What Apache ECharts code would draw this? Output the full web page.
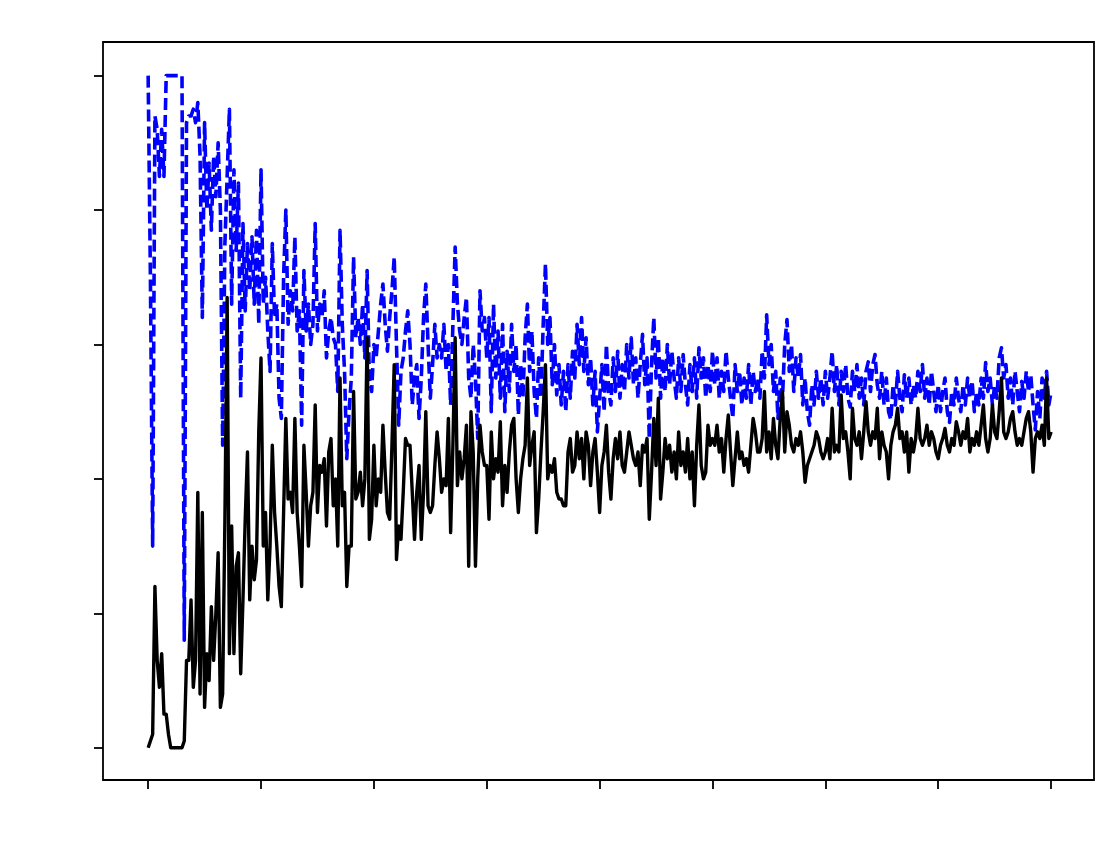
<!DOCTYPE html>
<html>
<head>
<meta charset="utf-8">
<script src="https://cdn.jsdelivr.net/npm/echarts@6/dist/echarts.min.js"></script>
<style>
html,body{margin:0;padding:0;background:#fff;}
#chart{width:1095px;height:868px;}
</style>
</head>
<body>
<div id="chart"></div>
<script>
// tick positions (labels are not shown in the reference)
const xTicks = [0, 50, 100, 150, 200, 250, 300, 350, 400];
const yTicks = [0, 0.2, 0.4, 0.6, 0.8, 1.0];

// blue dashed series, one value per step 0..400
const blueValues = [
1.0,0.70,0.30,0.94,0.92,0.85,0.92,0.85,1.0,1.0,
1.0,1.0,1.0,1.0,1.0,1.0,0.16,0.93,0.94,0.94,
0.95,0.93,0.96,0.88,0.64,0.93,0.80,0.87,0.77,0.88,
0.82,0.90,0.80,0.45,0.75,0.85,0.95,0.66,0.86,0.74,
0.84,0.52,0.78,0.65,0.75,0.68,0.76,0.66,0.77,0.63,
0.86,0.66,0.70,0.62,0.56,0.75,0.64,0.66,0.52,0.49,
0.70,0.80,0.63,0.68,0.65,0.76,0.62,0.65,0.48,0.71,
0.62,0.66,0.60,0.63,0.78,0.62,0.66,0.64,0.68,0.58,
0.62,0.64,0.61,0.60,0.53,0.77,0.63,0.56,0.43,0.50,
0.55,0.73,0.61,0.64,0.60,0.66,0.58,0.71,0.55,0.53,
0.60,0.58,0.62,0.66,0.69,0.63,0.59,0.64,0.68,0.73,
0.60,0.48,0.56,0.58,0.62,0.65,0.60,0.51,0.55,0.57,
0.49,0.55,0.64,0.69,0.60,0.52,0.57,0.63,0.58,0.60,
0.58,0.63,0.56,0.60,0.51,0.63,0.745,0.66,0.62,0.60,
0.64,0.67,0.55,0.52,0.60,0.55,0.46,0.68,0.62,0.64,
0.58,0.64,0.50,0.66,0.55,0.62,0.52,0.63,0.50,0.59,
0.53,0.63,0.56,0.60,0.495,0.57,0.52,0.61,0.66,0.56,
0.62,0.53,0.49,0.58,0.52,0.63,0.72,0.60,0.64,0.54,
0.60,0.525,0.57,0.51,0.56,0.50,0.57,0.52,0.59,0.55,
0.63,0.57,0.64,0.56,0.61,0.54,0.58,0.51,0.56,0.47,
0.52,0.57,0.50,0.60,0.53,0.51,0.58,0.53,0.59,0.52,
0.57,0.53,0.60,0.55,0.61,0.54,0.58,0.52,0.57,0.615,
0.54,0.58,0.46,0.57,0.64,0.55,0.61,0.52,0.58,0.53,
0.60,0.54,0.59,0.55,0.52,0.58,0.53,0.585,0.54,0.51,
0.57,0.53,0.58,0.52,0.595,0.55,0.58,0.52,0.57,0.53,
0.59,0.54,0.58,0.52,0.56,0.53,0.59,0.55,0.52,0.49,
0.57,0.53,0.56,0.51,0.55,0.52,0.57,0.51,0.56,0.53,
0.55,0.52,0.59,0.55,0.644,0.57,0.60,0.53,0.56,0.49,
0.55,0.52,0.60,0.637,0.56,0.60,0.53,0.58,0.55,0.585,
0.51,0.55,0.50,0.48,0.54,0.51,0.56,0.52,0.55,0.51,
0.56,0.52,0.55,0.59,0.53,0.57,0.51,0.56,0.53,0.57,
0.52,0.507,0.56,0.53,0.57,0.52,0.55,0.51,0.56,0.574,
0.53,0.57,0.585,0.54,0.52,0.56,0.51,0.55,0.50,0.488,
0.54,0.51,0.56,0.52,0.50,0.555,0.52,0.55,0.51,0.54,
0.52,0.56,0.53,0.57,0.52,0.55,0.51,0.56,0.53,0.50,
0.54,0.50,0.53,0.55,0.50,0.484,0.53,0.51,0.55,0.52,
0.50,0.54,0.51,0.55,0.52,0.546,0.50,0.53,0.51,0.55,
0.52,0.573,0.53,0.55,0.51,0.54,0.52,0.58,0.595,0.55,
0.57,0.52,0.55,0.51,0.56,0.53,0.50,0.545,0.52,0.56,
0.53,0.555,0.51,0.473,0.53,0.49,0.55,0.52,0.56,0.51,
0.53
];

// black solid series, one value per step 0..400
const blackValues = [
0.00,0.01,0.02,0.24,0.13,0.09,0.14,0.05,0.05,0.02,
0.00,0.00,0.00,0.00,0.00,0.00,0.01,0.13,0.13,0.22,
0.09,0.13,0.38,0.08,0.35,0.06,0.14,0.10,0.21,0.13,
0.20,0.29,0.06,0.08,0.34,0.67,0.14,0.33,0.14,0.27,
0.29,0.11,0.22,0.34,0.44,0.22,0.30,0.25,0.28,0.47,
0.58,0.30,0.35,0.22,0.30,0.45,0.35,0.30,0.24,0.21,
0.35,0.49,0.37,0.38,0.35,0.49,0.35,0.30,0.24,0.45,
0.38,0.30,0.36,0.38,0.51,0.35,0.42,0.41,0.43,0.33,
0.44,0.46,0.36,0.40,0.30,0.55,0.36,0.38,0.24,0.30,
0.30,0.53,0.37,0.38,0.41,0.36,0.40,0.61,0.31,0.34,
0.45,0.36,0.40,0.38,0.48,0.41,0.35,0.34,0.45,0.57,
0.28,0.33,0.31,0.38,0.46,0.45,0.45,0.38,0.31,0.38,
0.42,0.31,0.38,0.50,0.36,0.35,0.36,0.42,0.47,0.43,
0.38,0.40,0.39,0.49,0.32,0.45,0.61,0.39,0.44,0.40,
0.43,0.48,0.27,0.50,0.44,0.27,0.40,0.48,0.44,0.42,
0.42,0.34,0.47,0.40,0.43,0.41,0.485,0.36,0.42,0.38,
0.44,0.48,0.49,0.40,0.35,0.40,0.43,0.45,0.55,0.42,
0.45,0.47,0.32,0.37,0.44,0.50,0.57,0.40,0.42,0.41,
0.43,0.38,0.37,0.37,0.36,0.36,0.44,0.46,0.41,0.42,
0.47,0.43,0.46,0.40,0.47,0.45,0.39,0.44,0.46,0.41,
0.35,0.42,0.44,0.48,0.41,0.37,0.43,0.46,0.43,0.47,
0.42,0.41,0.44,0.47,0.45,0.43,0.42,0.44,0.39,0.45,
0.44,0.46,0.34,0.41,0.49,0.42,0.52,0.37,0.41,0.46,
0.43,0.45,0.41,0.44,0.40,0.47,0.42,0.44,0.41,0.46,
0.40,0.44,0.36,0.45,0.51,0.42,0.40,0.41,0.48,0.45,
0.46,0.45,0.48,0.44,0.46,0.41,0.46,0.495,0.44,0.39,
0.43,0.47,0.43,0.44,0.42,0.43,0.41,0.45,0.49,0.47,
0.44,0.44,0.46,0.53,0.44,0.47,0.43,0.49,0.45,0.43,
0.49,0.53,0.44,0.50,0.48,0.45,0.44,0.46,0.45,0.47,
0.44,0.395,0.42,0.43,0.44,0.45,0.47,0.46,0.44,0.43,
0.44,0.46,0.43,0.505,0.44,0.45,0.44,0.525,0.46,0.47,
0.44,0.40,0.505,0.46,0.45,0.47,0.43,0.47,0.515,0.47,
0.45,0.47,0.46,0.505,0.43,0.47,0.45,0.44,0.40,0.45,
0.47,0.48,0.505,0.46,0.47,0.44,0.47,0.41,0.46,0.44,
0.46,0.505,0.46,0.45,0.46,0.48,0.45,0.47,0.46,0.44,
0.43,0.45,0.46,0.475,0.45,0.44,0.46,0.45,0.485,0.47,
0.45,0.47,0.46,0.49,0.44,0.46,0.45,0.47,0.45,0.48,
0.51,0.46,0.44,0.46,0.51,0.47,0.46,0.50,0.55,0.47,
0.46,0.47,0.49,0.50,0.47,0.45,0.46,0.45,0.47,0.49,
0.50,0.47,0.41,0.46,0.47,0.46,0.48,0.45,0.55,0.46,
0.47
];

const chart = echarts.init(document.getElementById('chart'), null, {renderer: 'canvas'});
const toPairs = vals => vals.map((v, i) => [i, v]);

chart.setOption({
  animation: false,
  backgroundColor: '#ffffff',
  grid: {
    left: 103, right: 1, top: 42, bottom: 88,
    show: true, borderColor: '#000', borderWidth: 1.8, backgroundColor: 'transparent'
  },
  xAxis: {
    type: 'value', min: -20, max: 419, position: 'bottom',
    axisLine: {show: false, onZero: false},
    splitLine: {show: false},
    axisLabel: {show: false, customValues: xTicks},
    axisTick: {show: true, inside: false, length: 9, customValues: xTicks,
               lineStyle: {color: '#000', width: 1.8}}
  },
  yAxis: {
    type: 'value', min: -0.048, max: 1.05, position: 'left',
    axisLine: {show: false, onZero: false},
    splitLine: {show: false},
    axisLabel: {show: false, customValues: yTicks},
    axisTick: {show: true, inside: false, length: 9, customValues: yTicks,
               lineStyle: {color: '#000', width: 1.8}}
  },
  series: [
    {
      type: 'line', data: toPairs(blueValues), showSymbol: false, symbol: 'none',
      lineStyle: {color: '#0000ff', width: 3.6, type: [12, 5], cap: 'butt', join: 'round'},
      z: 2
    },
    {
      type: 'line', data: toPairs(blackValues), showSymbol: false, symbol: 'none',
      lineStyle: {color: '#000000', width: 3.4, type: 'solid', join: 'round'},
      z: 3
    }
  ]
});
</script>
</body>
</html>
